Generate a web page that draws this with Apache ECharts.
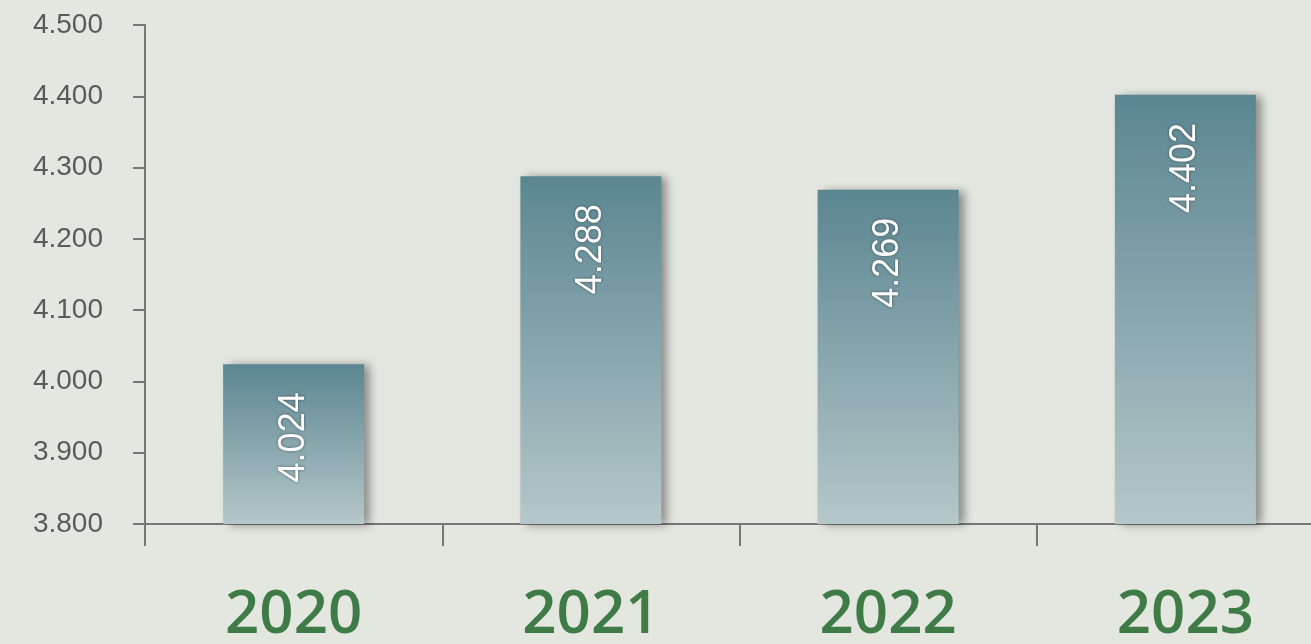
<!DOCTYPE html>
<html>
<head>
<meta charset="utf-8">
<script src="https://cdn.jsdelivr.net/npm/echarts@6/dist/echarts.min.js"></script>
<style>
html,body{margin:0;padding:0;background:#e4e6e0;overflow:hidden;}
#c{width:1311px;height:644px;}
</style>
</head>
<body>
<div id="c"></div>
<script>
const categories = ['2020', '2021', '2022', '2023'];
const values = [4.024, 4.288, 4.269, 4.402];
const yMin = 3.8, yMax = 4.5, yStep = 0.1;

const chart = echarts.init(document.getElementById('c'));
chart.setOption({
  backgroundColor: '#e4e6e0',
  animation: false,
  grid: { left: 145, top: 25, width: 1189, height: 499, containLabel: false, outerBoundsMode: 'none' },
  xAxis: {
    type: 'category',
    data: categories,
    axisLine: { lineStyle: { color: '#777', width: 2 } },
    axisTick: { show: true, length: 22, lineStyle: { color: '#777', width: 2 } },
    axisLabel: { color: '#3f7b47', fontSize: 60, fontWeight: 600, fontFamily: 'Open Sans', margin: 62 }
  },
  yAxis: {
    type: 'value',
    min: yMin, max: yMax, interval: yStep,
    axisLine: { show: true, lineStyle: { color: '#777', width: 2 } },
    axisTick: { show: true, length: 12, lineStyle: { color: '#777', width: 2 } },
    splitLine: { show: false },
    axisLabel: {
      color: '#5a5a5a', fontSize: 28, fontFamily: 'Liberation Sans', margin: 42,
      formatter: v => v.toFixed(3)
    }
  },
  series: [{
    type: 'bar',
    data: values,
    barWidth: 141,
    itemStyle: {
      color: new echarts.graphic.LinearGradient(0, 0, 0, 1, [
        { offset: 0, color: '#5b8691' },
        { offset: 1, color: '#b5c7c9' }
      ]),
      shadowColor: 'rgba(0,0,0,0.4)',
      shadowBlur: 9,
      shadowOffsetX: 6,
      shadowOffsetY: 1
    },
    label: {
      show: true,
      position: 'insideTop',
      distance: 28,
      rotate: 90,
      align: 'right',
      verticalAlign: 'middle',
      color: '#ffffff',
      fontSize: 36,
      fontFamily: 'Liberation Sans',
      textShadowColor: 'rgba(0,0,0,0.45)',
      textShadowBlur: 3,
      formatter: p => p.value.toFixed(3)
    }
  }]
});
</script>
</body>
</html>
